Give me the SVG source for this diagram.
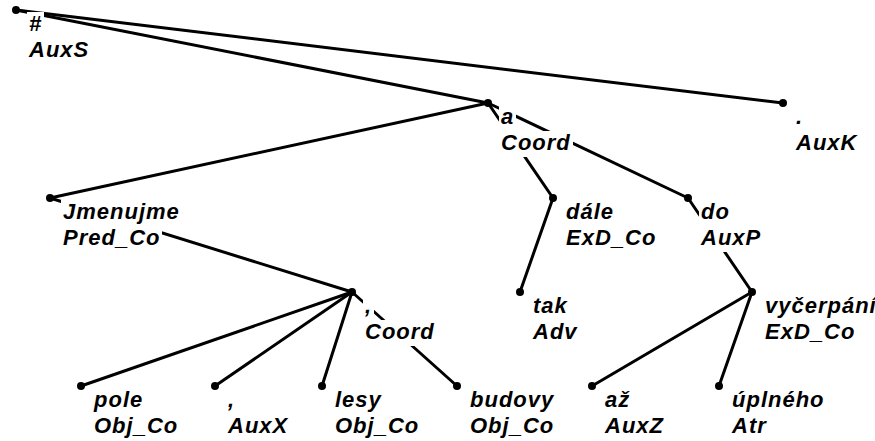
<svg xmlns="http://www.w3.org/2000/svg" width="875" height="441" viewBox="0 0 875 441">
<style>
.ln{stroke:#000;stroke-width:3;stroke-linecap:round;fill:none}
.dot{fill:#000}
.bg{fill:#fff}
.t{font-family:"Liberation Sans",Arial,sans-serif;font-style:italic;font-weight:bold;font-size:22px;letter-spacing:1px;fill:#000}
</style>
<rect width="875" height="441" fill="#fff"/>
<g id="connectors">
<line class="ln" x1="16" y1="10" x2="488" y2="103"/>
<line class="ln" x1="16" y1="10" x2="783" y2="103"/>
<line class="ln" x1="488" y1="103" x2="50" y2="198"/>
<line class="ln" x1="488" y1="103" x2="553" y2="198"/>
<line class="ln" x1="488" y1="103" x2="688" y2="198"/>
<line class="ln" x1="50" y1="198" x2="352" y2="292"/>
<line class="ln" x1="553" y1="198" x2="520" y2="292"/>
<line class="ln" x1="688" y1="198" x2="752" y2="292"/>
<line class="ln" x1="352" y1="292" x2="81" y2="386"/>
<line class="ln" x1="352" y1="292" x2="215" y2="386"/>
<line class="ln" x1="352" y1="292" x2="322" y2="386"/>
<line class="ln" x1="352" y1="292" x2="457" y2="386"/>
<line class="ln" x1="752" y1="292" x2="592" y2="386"/>
<line class="ln" x1="752" y1="292" x2="719" y2="386"/>
</g>
<g id="n-root">
<circle class="dot" cx="16" cy="10" r="4"/>
<rect class="bg" x="27" y="12" width="17" height="26"/>
<rect class="bg" x="27" y="38" width="64" height="26"/>
<text class="t" x="29" y="31">#</text>
<text class="t" x="29" y="57">AuxS</text>
</g>
<g id="n-a">
<circle class="dot" cx="488" cy="103" r="4"/>
<rect class="bg" x="499" y="105" width="17" height="26"/>
<rect class="bg" x="499" y="131" width="74" height="26"/>
<text class="t" x="501" y="124">a</text>
<text class="t" x="501" y="150">Coord</text>
</g>
<g id="n-auxk">
<circle class="dot" cx="783" cy="103" r="4"/>
<rect class="bg" x="794" y="105" width="11" height="26"/>
<rect class="bg" x="794" y="131" width="65" height="26"/>
<text class="t" x="796" y="124">.</text>
<text class="t" x="796" y="150">AuxK</text>
</g>
<g id="n-jmenujme">
<circle class="dot" cx="50" cy="198" r="4"/>
<rect class="bg" x="61" y="200" width="121" height="26"/>
<rect class="bg" x="61" y="226" width="101" height="26"/>
<text class="t" x="63" y="219">Jmenujme</text>
<text class="t" x="63" y="245">Pred_Co</text>
</g>
<g id="n-dale">
<circle class="dot" cx="553" cy="198" r="4"/>
<rect class="bg" x="564" y="200" width="52" height="26"/>
<rect class="bg" x="564" y="226" width="94" height="26"/>
<text class="t" x="566" y="219">dále</text>
<text class="t" x="566" y="245">ExD_Co</text>
</g>
<g id="n-do">
<circle class="dot" cx="688" cy="198" r="4"/>
<rect class="bg" x="699" y="200" width="33" height="26"/>
<rect class="bg" x="699" y="226" width="64" height="26"/>
<text class="t" x="701" y="219">do</text>
<text class="t" x="701" y="245">AuxP</text>
</g>
<g id="n-comma-coord">
<circle class="dot" cx="352" cy="292" r="4"/>
<rect class="bg" x="363" y="294" width="11" height="26"/>
<rect class="bg" x="363" y="320" width="74" height="26"/>
<text class="t" x="365" y="313">,</text>
<text class="t" x="365" y="339">Coord</text>
</g>
<g id="n-tak">
<circle class="dot" cx="520" cy="292" r="4"/>
<rect class="bg" x="531" y="294" width="39" height="26"/>
<rect class="bg" x="531" y="320" width="49" height="26"/>
<text class="t" x="533" y="313">tak</text>
<text class="t" x="533" y="339">Adv</text>
</g>
<g id="n-vycerpani">
<circle class="dot" cx="752" cy="292" r="4"/>
<rect class="bg" x="763" y="294" width="116" height="26"/>
<rect class="bg" x="763" y="320" width="94" height="26"/>
<text class="t" x="765" y="313">vyčerpání</text>
<text class="t" x="765" y="339">ExD_Co</text>
</g>
<g id="n-pole">
<circle class="dot" cx="81" cy="386" r="4"/>
<rect class="bg" x="92" y="388" width="53" height="26"/>
<rect class="bg" x="92" y="414" width="88" height="26"/>
<text class="t" x="94" y="407">pole</text>
<text class="t" x="94" y="433">Obj_Co</text>
</g>
<g id="n-auxx">
<circle class="dot" cx="215" cy="386" r="4"/>
<rect class="bg" x="226" y="388" width="11" height="26"/>
<rect class="bg" x="226" y="414" width="64" height="26"/>
<text class="t" x="228" y="407">,</text>
<text class="t" x="228" y="433">AuxX</text>
</g>
<g id="n-lesy">
<circle class="dot" cx="322" cy="386" r="4"/>
<rect class="bg" x="333" y="388" width="51" height="26"/>
<rect class="bg" x="333" y="414" width="88" height="26"/>
<text class="t" x="335" y="407">lesy</text>
<text class="t" x="335" y="433">Obj_Co</text>
</g>
<g id="n-budovy">
<circle class="dot" cx="457" cy="386" r="4"/>
<rect class="bg" x="468" y="388" width="88" height="26"/>
<rect class="bg" x="468" y="414" width="88" height="26"/>
<text class="t" x="470" y="407">budovy</text>
<text class="t" x="470" y="433">Obj_Co</text>
</g>
<g id="n-az">
<circle class="dot" cx="592" cy="386" r="4"/>
<rect class="bg" x="603" y="388" width="29" height="26"/>
<rect class="bg" x="603" y="414" width="63" height="26"/>
<text class="t" x="605" y="407">až</text>
<text class="t" x="605" y="433">AuxZ</text>
</g>
<g id="n-uplneho">
<circle class="dot" cx="719" cy="386" r="4"/>
<rect class="bg" x="730" y="388" width="97" height="26"/>
<rect class="bg" x="730" y="414" width="39" height="26"/>
<text class="t" x="732" y="407">úplného</text>
<text class="t" x="732" y="433">Atr</text>
</g>
</svg>
